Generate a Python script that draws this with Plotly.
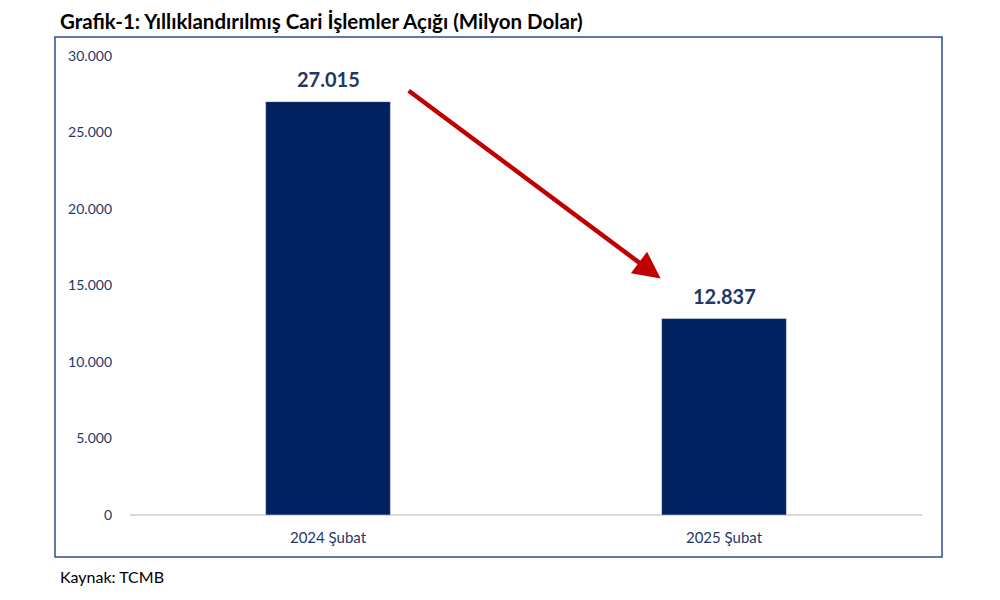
import plotly.graph_objects as go

categories = ["2024 Şubat", "2025 Şubat"]
values = [27015, 12837]
value_labels = ["27.015", "12.837"]
tick_vals = [0, 5000, 10000, 15000, 20000, 25000, 30000]

NAVY = "#002060"
TXT = "#1F3864"
FONT = "Lato"

fig = go.Figure()
fig.add_trace(go.Bar(
    x=categories, y=values, marker_color=NAVY, width=0.315,
))

for c, v, lab in zip(categories, values, value_labels):
    fig.add_annotation(x=c, y=v, xref="x", yref="y", text=f"<b>{lab}</b>", showarrow=False,
                       yanchor="bottom", yshift=9, font=dict(family=FONT, size=20, color=TXT))

fig.update_layout(
    width=1000, height=600, paper_bgcolor="white", plot_bgcolor="white",
    margin=dict(l=122, r=86, t=48, b=93),
    separators=",.", showlegend=False,
    font=dict(family=FONT, color=TXT),
    xaxis=dict(showgrid=False, showline=False, ticks="", ticklabelstandoff=12,
               tickfont=dict(size=15, color=TXT, family=FONT)),
    yaxis=dict(range=[0, 30000], tickvals=tick_vals, tickformat=",.0f", showgrid=False,
               zeroline=True, zerolinecolor="#D9D9D9", zerolinewidth=2, showline=False,
               ticks="", ticklabelstandoff=17, tickfont=dict(size=14, color=TXT, family=FONT)),
)

# Border around chart area
fig.add_shape(type="rect", xref="paper", yref="paper",
              x0=-0.0947, x1=1.0253, y0=-0.0915, y1=1.0414,
              line=dict(color="#2F4B8F", width=1.5), fillcolor="rgba(0,0,0,0)")

# Trend arrow between bars
fig.add_annotation(x=0.84, y=15450, ax=0.2, ay=27800, xref="x", yref="y", axref="x", ayref="y",
                   text="", showarrow=True, arrowhead=2, arrowsize=1.2, arrowwidth=4.5,
                   arrowcolor="#C00000")

fig.add_annotation(text="<b>Grafik-1: Yıllıklandırılmış Cari İşlemler Açığı (Milyon Dolar)</b>",
                   xref="paper", yref="paper", x=-0.0915, y=1.076, xanchor="left", yanchor="middle",
                   showarrow=False, font=dict(family=FONT, size=20.5, color="#000000"))
fig.add_annotation(text="Kaynak: TCMB", xref="paper", yref="paper", x=-0.0915, y=-0.135,
                   xanchor="left", yanchor="middle", showarrow=False,
                   font=dict(family=FONT, size=16, color="#000000"))

fig.write_html("out.html")
